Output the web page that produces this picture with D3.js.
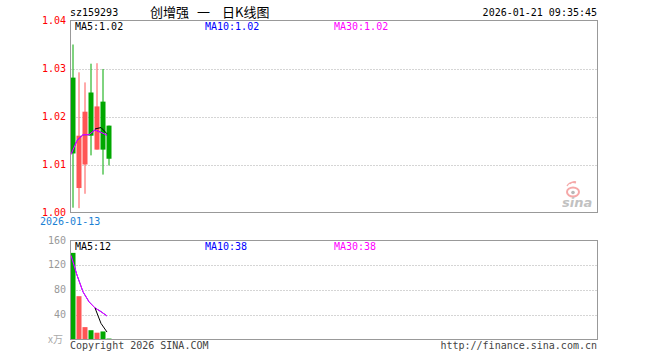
<!DOCTYPE html>
<html><head><meta charset="utf-8">
<script src="https://cdn.jsdelivr.net/npm/d3@7"></script>
<style>body{margin:0;background:#fff}svg{display:block}</style>
</head><body><svg id="c" width="660" height="360"></svg>
<script>
// ---- data ----
const dates  = ["2026-01-13","2026-01-14","2026-01-15","2026-01-16","2026-01-19","2026-01-20","2026-01-21"];
const opens  = [1.0281, 1.0051, 1.0100, 1.0250, 1.0131, 1.0231, 1.0181];
const closes = [1.0123, 1.0160, 1.0210, 1.0160, 1.0221, 1.0131, 1.0112];
const highs  = [1.0350, 1.0292, 1.0271, 1.0310, 1.0311, 1.0299, 1.0181];
const lows   = [1.0010, 1.0009, 1.0039, 1.0119, 1.0131, 1.0079, 1.0098];
const ma5    = [null, null, null, null, 1.0174, 1.0177, 1.0164];
const ma10   = [1.0121, 1.0150, 1.0162, 1.0162, 1.0172, 1.0167, 1.0161];
const ma30   = [1.0121, 1.0150, 1.0162, 1.0162, 1.0172, 1.0167, 1.0161];
const volumes   = [140, 70, 20, 15, 11, 13, 1.5];
const volMa5    = [null, null, null, null, 51, 26, 12];
const volMa10   = [136, 104, 77, 61, 51, 45, 38];
const volMa30   = [136, 104, 77, 61, 51, 45, 38];
const priceTicks = [1.00, 1.01, 1.02, 1.03, 1.04];
const volTicks   = [40, 80, 120, 160];
const code = "sz159293";
const titleParts = ["创增强", "一", "日K线图"];
const stamp = "2026-01-21 09:35:45";
const maLabels = ["MA5:1.02", "MA10:1.02", "MA30:1.02"];
const volMaLabels = ["MA5:12", "MA10:38", "MA30:38"];

// ---- layout ----
const svg = d3.select("#c");
const L = 70.5, R = 597.5;
const pTop = 20.5, pBot = 212.5, vTop = 240.5, vBot = 339.5;
const RED = "#ff5555", GREEN = "#00a800", GRID = "#aaaaaa", BORDER = "#999999";
const mono = "DejaVu Sans Mono, monospace";

const x = d3.scaleLinear().domain([0, 1]).range([L, L + 6]);
const y = d3.scaleLinear().domain([1.00, 1.04]).range([pBot, pTop]);
const yv = d3.scaleLinear().domain([0, 160]).range([vBot, vTop]);
const idx = d3.range(dates.length);

// header
svg.append("text").attr("x", 70).attr("y", 16).attr("font-family", mono).attr("font-size", 10).attr("fill", "#000").text(code);
const titleX = [150, 197, 222];
titleParts.forEach((t, i) => svg.append("text").attr("x", titleX[i]).attr("y", 17)
  .attr("font-family", "Noto Sans CJK SC, sans-serif").attr("font-size", 13).attr("fill", "#000").text(t));
svg.append("text").attr("x", 597).attr("y", 16).attr("text-anchor", "end").attr("font-family", mono).attr("font-size", 10).attr("fill", "#000").text(stamp);

// grid lines
function grid(scale, ticks, skip) {
  svg.append("g").selectAll("line").data(ticks.filter(t => !skip.includes(t))).join("line")
    .attr("x1", L).attr("x2", R)
    .attr("y1", d => Math.round(scale(d)) + 0.5).attr("y2", d => Math.round(scale(d)) + 0.5)
    .attr("stroke", GRID).attr("stroke-dasharray", "1,2");
}
grid(y, priceTicks, [1.00, 1.04]);
grid(yv, volTicks, [160]);

// sina logo (light watermark)
const logo = svg.append("g").attr("opacity", 0.6);
logo.append("ellipse").attr("cx", 573).attr("cy", 192).attr("rx", 6).attr("ry", 4.5).attr("fill", "none").attr("stroke", "#f07070").attr("stroke-width", 2);
logo.append("circle").attr("cx", 573).attr("cy", 192.5).attr("r", 1.8).attr("fill", "#888");
logo.append("path").attr("d", "M567,186 q3,-5 9,-3 M570,184 q2,-3 6,-2").attr("fill", "none").attr("stroke", "#f07070").attr("stroke-width", 1.3);
logo.append("text").attr("x", 562).attr("y", 207).attr("font-family", "DejaVu Sans, sans-serif").attr("font-style", "italic").attr("font-weight", "bold").attr("font-size", 13).attr("fill", "#999").text("sina");

// candles
const cg = svg.append("g");
idx.forEach(i => {
  const up = closes[i] >= opens[i];
  const col = up ? RED : GREEN;
  const x0 = x(i), cx = x0 + 2.5;
  cg.append("line").attr("x1", cx).attr("x2", cx).attr("y1", y(highs[i])).attr("y2", y(lows[i])).attr("stroke", col).attr("stroke-width", 1);
  const top = y(Math.max(opens[i], closes[i])), bot = y(Math.min(opens[i], closes[i]));
  cg.append("rect").attr("x", x0).attr("y", top).attr("width", 5).attr("height", Math.max(1, bot - top)).attr("fill", col);
});

// volume bars
idx.forEach(i => {
  const up = closes[i] >= opens[i];
  svg.append("rect").attr("x", x(i)).attr("y", yv(volumes[i])).attr("width", 5)
    .attr("height", vBot - yv(volumes[i])).attr("fill", up ? RED : GREEN);
});

// MA lines
function maLine(vals, scale, color) {
  const line = d3.line().defined(d => d != null).x((d, i) => x(i) + 0.5).y(d => scale(d));
  svg.append("path").datum(vals).attr("d", line).attr("fill", "none").attr("stroke", color).attr("stroke-width", 1);
}
maLine(ma10, y, "#0000ff");
maLine(ma30, y, "#ff00ff");
maLine(ma5, y, "#000000");
maLine(volMa10, yv, "#0000ff");
maLine(volMa30, yv, "#ff00ff");
maLine(volMa5, yv, "#000000");

// panel borders
[[pTop, pBot], [vTop, vBot]].forEach(([t, b]) => {
  svg.append("rect").attr("x", L).attr("y", t).attr("width", R - L).attr("height", b - t)
    .attr("fill", "none").attr("stroke", BORDER).attr("stroke-width", 1);
});

// y labels
svg.append("g").selectAll("text").data(priceTicks).join("text")
  .attr("x", 66).attr("y", d => y(d) + 3).attr("text-anchor", "end")
  .attr("font-family", mono).attr("font-size", 10).attr("fill", "#ff0000").text(d => d.toFixed(2));
svg.append("g").selectAll("text").data(volTicks).join("text")
  .attr("x", 66).attr("y", d => yv(d) + 3).attr("text-anchor", "end")
  .attr("font-family", mono).attr("font-size", 10).attr("fill", "#999").text(d => d);
svg.append("text").attr("x", 48).attr("y", 343).attr("font-family", "Noto Sans CJK SC, sans-serif").attr("font-size", 10).attr("fill", "#aaa").text("x万");

// first date label
svg.append("text").attr("x", 40).attr("y", 225).attr("font-family", mono).attr("font-size", 10).attr("fill", "#1a7fd4").text(dates[0]);

// MA legends
const maColors = ["#000000", "#0000ff", "#ff00ff"];
const maX = [75, 205, 334];
maLabels.forEach((t, i) => svg.append("text").attr("x", maX[i]).attr("y", 30).attr("font-family", mono).attr("font-size", 10).attr("fill", maColors[i]).text(t));
volMaLabels.forEach((t, i) => svg.append("text").attr("x", maX[i]).attr("y", 250).attr("font-family", mono).attr("font-size", 10).attr("fill", maColors[i]).text(t));

// footer
svg.append("text").attr("x", 70).attr("y", 349).attr("font-family", mono).attr("font-size", 10).attr("fill", "#444").text("Copyright 2026 SINA.COM");
svg.append("text").attr("x", 597).attr("y", 349).attr("text-anchor", "end").attr("font-family", mono).attr("font-size", 10).attr("fill", "#444").text("http://finance.sina.com.cn");
</script></body></html>
